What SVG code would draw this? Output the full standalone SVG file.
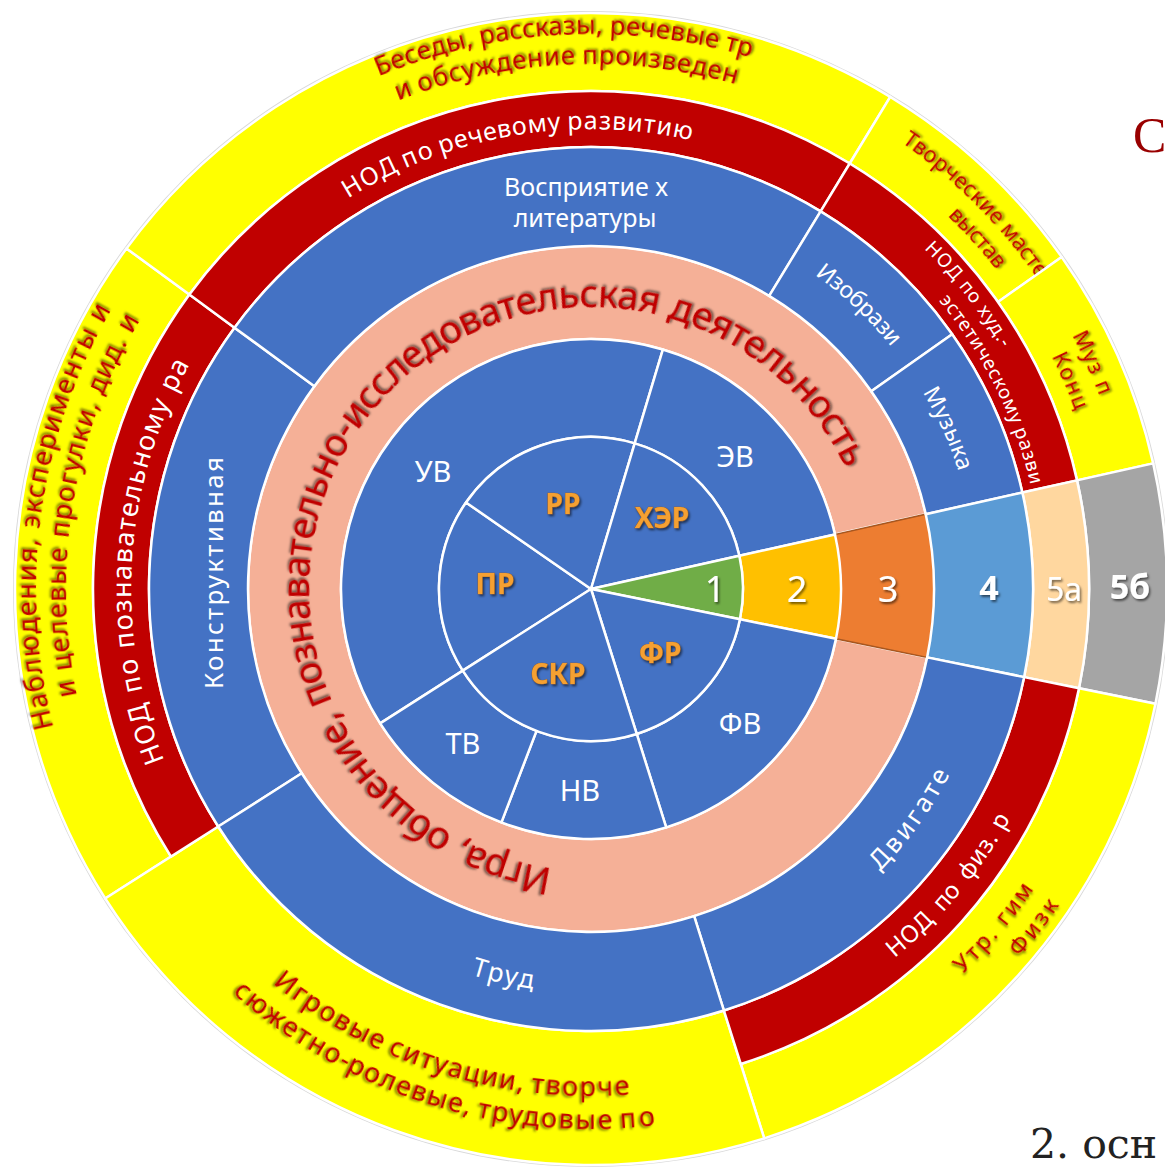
<svg xmlns="http://www.w3.org/2000/svg" width="1165" height="1170" viewBox="0 0 1165 1170">
<defs>
<style>
.s{stroke:#fff;stroke-width:2.5;stroke-linejoin:round}
.blue{fill:#4472C4}
.sal{fill:#F5B097}
.red{fill:#C00000}
.yel{fill:#FFFF00}
.t{font-family:"Noto Sans","Open Sans","DejaVu Sans",sans-serif;text-anchor:middle}
.w{fill:#fff}
.rt{fill:#C00000;filter:url(#sh)}
.or{fill:#F5A030;font-weight:bold;stroke:#9C5A1A;stroke-width:0.7;paint-order:stroke;filter:url(#sh)}
.num{fill:#fff;filter:url(#sh)}
.c{dominant-baseline:central}
</style>
<filter id="sh" x="-20%" y="-20%" width="140%" height="140%"><feDropShadow dx="1.5" dy="2" stdDeviation="1.3" flood-color="#000" flood-opacity="0.55"/></filter>
<!-- clockwise baselines (tops outward), midpoint at angle 0 -->
<path id="cw282" d="M591,307 A282,282 0 0 1 591,871"/>
<path id="cw555" d="M591,34 A555,555 0 0 1 591,1144"/>
<path id="cw525" d="M591,64 A525,525 0 0 1 591,1114"/>
<path id="cw460" d="M591,129 A460,460 0 0 1 591,1049"/>
<path id="cw544" d="M591,45 A544,544 0 0 1 591,1133"/>
<path id="cw516" d="M591,73 A516,516 0 0 1 591,1105"/>
<path id="cw476" d="M591,113 A476,476 0 0 1 591,1065"/>
<path id="cw452" d="M591,137 A452,452 0 0 1 591,1041"/>
<path id="cw386" d="M591,203 A386,386 0 0 1 591,975"/>
<!-- counter-clockwise baselines (tops inward), midpoint at angle 0 -->
<path id="ccw507" d="M591,1096 A507,507 0 0 0 591,82"/>
<path id="ccw540" d="M591,1129 A540,540 0 0 0 591,49"/>
<path id="ccw535" d="M591,1124 A535,535 0 0 0 591,54"/>
<path id="ccw565" d="M591,1154 A565,565 0 0 0 591,24"/>
<path id="ccw478" d="M591,1067 A478,478 0 0 0 591,111"/>
<path id="ccw404" d="M591,993 A404,404 0 0 0 591,185"/>
</defs>
<rect width="1165" height="1170" fill="#fff"/>
<circle cx="591" cy="589" r="577" fill="none" stroke="#d9d9d9" stroke-width="2"/>

<!-- yellow ring -->
<g id="y-nabl">
<path class="yel s" d="M105.21,898.48 A576,576 0 0 1 126.49,248.41 L189.39,294.53 A498,498 0 0 0 170.99,856.58 Z"/>
<text class="t rt" font-size="27" transform="rotate(175.33 591 589)"><textPath href="#cw555" startOffset="50%" textLength="190">Наблюдения,</textPath></text>
<text class="t rt" font-size="27" transform="rotate(196.82 591 589)"><textPath href="#cw555" startOffset="50%" textLength="206">эксперименты</textPath></text>
<text class="t rt" font-size="27" transform="rotate(209.35 591 589)"><textPath href="#cw555" startOffset="50%">и</textPath></text>
<text class="t rt" font-size="27" transform="rotate(169.2 591 589)"><textPath href="#cw525" startOffset="50%">и</textPath></text>
<text class="t rt" font-size="27" transform="rotate(177.8 591 589)"><textPath href="#cw525" startOffset="50%" textLength="122">целевые</textPath></text>
<text class="t rt" font-size="27" transform="rotate(193.03 591 589)"><textPath href="#cw525" startOffset="50%" textLength="138">прогулки,</textPath></text>
<text class="t rt" font-size="27" transform="rotate(204.78 591 589)"><textPath href="#cw525" startOffset="50%" textLength="59">дид.</textPath></text>
<text class="t rt" font-size="27" transform="rotate(209.9 591 589)"><textPath href="#cw525" startOffset="50%">и</textPath></text>
</g>
<g id="y-bes">
<path class="yel s" d="M126.49,248.41 A576,576 0 0 1 890.24,96.83 L849.72,163.48 A498,498 0 0 0 189.39,294.53 Z"/>
<text class="t rt" font-size="26" transform="rotate(252.66 591 589)"><textPath href="#cw555" startOffset="50%" textLength="100">Беседы,</textPath></text>
<text class="t rt" font-size="26" transform="rotate(264.86 591 589)"><textPath href="#cw555" startOffset="50%" textLength="123">рассказы,</textPath></text>
<text class="t rt" font-size="26" transform="rotate(277.53 591 589)"><textPath href="#cw555" startOffset="50%" textLength="109.3">речевые</textPath></text>
<text class="t rt" font-size="26" transform="rotate(285.27 591 589)"><textPath href="#cw555" startOffset="50%" textLength="27.6">тр</textPath></text>
<text class="t rt" font-size="26" transform="rotate(249.32 591 589)"><textPath href="#cw525" startOffset="50%">и</textPath></text>
<text class="t rt" font-size="26" transform="rotate(259.64 591 589)"><textPath href="#cw525" startOffset="50%" textLength="158.6">обсуждение</textPath></text>
<text class="t rt" font-size="26" transform="rotate(277.52 591 589)"><textPath href="#cw525" startOffset="50%" textLength="155.5">произведен</textPath></text>
</g>
<g id="y-tvor">
<path class="yel s" d="M890.24,96.83 A576,576 0 0 1 1061.68,256.98 L997.94,301.94 A498,498 0 0 0 849.72,163.48 Z"/>
<text class="t rt" font-size="22" transform="rotate(311.43 591 589)"><textPath href="#cw544" startOffset="50%" textLength="126">Творческие</textPath></text>
<text class="t rt" font-size="22" transform="rotate(321.95 591 589)"><textPath href="#cw544" startOffset="50%" textLength="61.8">масте</textPath></text>
<text class="t rt" font-size="22" transform="rotate(317.75 591 589)"><textPath href="#cw516" startOffset="50%" textLength="72.9">выстав</textPath></text>
</g>
<g id="y-muz">
<path class="yel s" d="M1061.68,256.98 A576,576 0 0 1 1153.13,463.35 L1077.01,480.36 A498,498 0 0 0 997.94,301.94 Z"/>
<text class="t rt" font-size="22" transform="rotate(335.7 591 589)"><textPath href="#cw544" startOffset="50%" textLength="66.5">Муз п</textPath></text>
<text class="t rt" font-size="22" transform="rotate(336.5 591 589)"><textPath href="#cw516" startOffset="50%" textLength="59.4">Конц</textPath></text>
</g>
<g id="w-5b">
<path fill="#A5A5A5" class="s" d="M1153.13,463.35 A576,576 0 0 1 1155.44,703.84 L1079.00,688.28 A498,498 0 0 0 1077.01,480.36 Z"/>
<text class="t num c" x="1130" y="586" font-size="34" font-weight="bold">5б</text>
</g>
<g id="y-utr">
<path class="yel s" d="M1155.44,703.84 A576,576 0 0 1 764.21,1138.34 L740.75,1063.95 A498,498 0 0 0 1079.00,688.28 Z"/>
<text class="t rt" font-size="23" transform="rotate(40.05 591 589)"><textPath href="#ccw535" startOffset="50%" textLength="111">Утр. гим</textPath></text>
<text class="t rt" font-size="23" transform="rotate(37.35 591 589)"><textPath href="#ccw565" startOffset="50%" textLength="66">Физк</textPath></text>
</g>
<g id="y-igr">
<path class="yel s" d="M764.21,1138.34 A576,576 0 0 1 105.21,898.48 L218.22,826.49 A442,442 0 0 0 723.91,1010.54 Z"/>
<text class="t rt" font-size="27" transform="rotate(121.71 591 589)"><textPath href="#ccw507" startOffset="50%" textLength="127.2">Игровые</textPath></text>
<text class="t rt" font-size="27" transform="rotate(105.67 591 589)"><textPath href="#ccw507" startOffset="50%" textLength="141.6">ситуации,</textPath></text>
<text class="t rt" font-size="27" transform="rotate(91.21 591 589)"><textPath href="#ccw507" startOffset="50%" textLength="99.3">творче</textPath></text>
<text class="t rt" font-size="27" transform="rotate(124.31 591 589)"><textPath href="#ccw540" startOffset="50%" textLength="137.5">сюжетно-</textPath></text>
<text class="t rt" font-size="27" transform="rotate(110.01 591 589)"><textPath href="#ccw540" startOffset="50%" textLength="132">ролевые,</textPath></text>
<text class="t rt" font-size="27" transform="rotate(94.95 591 589)"><textPath href="#ccw540" startOffset="50%" textLength="136.9">трудовые</textPath></text>
<text class="t rt" font-size="27" transform="rotate(85 591 589)"><textPath href="#ccw540" startOffset="50%" textLength="35.7">по</textPath></text>
</g>

<!-- red ring -->
<g id="r-pozn">
<path class="red s" d="M170.99,856.58 A498,498 0 0 1 189.39,294.53 L234.55,327.64 A442,442 0 0 0 218.22,826.49 Z"/>
<text class="t w" font-size="27" transform="rotate(161.9 591 589)"><textPath href="#cw460" startOffset="50%" textLength="62">НОД</textPath></text>
<text class="t w" font-size="27" transform="rotate(169.3 591 589)"><textPath href="#cw460" startOffset="50%" textLength="34">по</textPath></text>
<text class="t w" font-size="27" transform="rotate(188.28 591 589)"><textPath href="#cw460" startOffset="50%" textLength="250">познавательному</textPath></text>
<text class="t w" font-size="27" transform="rotate(207.2 591 589)"><textPath href="#cw460" startOffset="50%" textLength="33">ра</textPath></text>
</g>
<g id="r-rech">
<path class="red s" d="M189.39,294.53 A498,498 0 0 1 849.72,163.48 L820.63,211.33 A442,442 0 0 0 234.55,327.64 Z"/>
<text class="t w" font-size="25" transform="rotate(241.72 591 589)"><textPath href="#cw460" startOffset="50%" textLength="58.1">НОД</textPath></text>
<text class="t w" font-size="25" transform="rotate(248.16 591 589)"><textPath href="#cw460" startOffset="50%" textLength="31.9">по</textPath></text>
<text class="t w" font-size="25" transform="rotate(258.61 591 589)"><textPath href="#cw460" startOffset="50%" textLength="122.6">речевому</textPath></text>
<text class="t w" font-size="25" transform="rotate(274.84 591 589)"><textPath href="#cw460" startOffset="50%" textLength="124.7">развитию</textPath></text>
</g>
<g id="r-hud">
<path class="red s" d="M849.72,163.48 A498,498 0 0 1 1077.01,480.36 L1022.36,492.58 A442,442 0 0 0 820.63,211.33 Z"/>
<text class="t w" font-size="19" transform="rotate(322 591 589)"><textPath href="#cw476" startOffset="50%" textLength="126.3">НОД по худ.-</textPath></text>
<text class="t w" font-size="19" transform="rotate(329.49 591 589)"><textPath href="#cw452" startOffset="50%" textLength="144.9">эстетическому</textPath></text>
<text class="t w" font-size="19" transform="rotate(343.02 591 589)"><textPath href="#cw452" startOffset="50%" textLength="58.1">разви</textPath></text>
</g>
<g id="w-5a">
<path fill="#FFD79F" class="s" d="M1077.01,480.36 A498,498 0 0 1 1079.00,688.28 L1024.13,677.12 A442,442 0 0 0 1022.36,492.58 Z"/>
<text class="t num c" x="1064" y="588" font-size="32">5а</text>
</g>
<g id="r-fiz">
<path class="red s" d="M1079.00,688.28 A498,498 0 0 1 740.75,1063.95 L723.91,1010.54 A442,442 0 0 0 1024.13,677.12 Z"/>
<text class="t w" font-size="24" transform="rotate(47.3 591 589)"><textPath href="#ccw478" startOffset="50%" textLength="55">НОД</textPath></text>
<text class="t w" font-size="24" transform="rotate(40.87 591 589)"><textPath href="#ccw478" startOffset="50%" textLength="29">по</textPath></text>
<text class="t w" font-size="24" transform="rotate(34.6 591 589)"><textPath href="#ccw478" startOffset="50%" textLength="53">физ.</textPath></text>
<text class="t w" font-size="24" transform="rotate(29.56 591 589)"><textPath href="#ccw478" startOffset="50%">р</textPath></text>
</g>

<!-- salmon ring -->
<g id="s-ring">
<path class="sal s" d="M927.11,657.38 A343,343 0 1 1 925.74,514.18 L834.98,534.46 A250,250 0 1 0 835.98,638.84 Z"/>
<text class="t rt" font-size="38" transform="rotate(107.535 591 589)"><textPath href="#cw282" startOffset="50%" textLength="95.8">Игра,</textPath></text>
<text class="t rt" font-size="38" transform="rotate(127.01 591 589)"><textPath href="#cw282" startOffset="50%" textLength="77">общ</textPath></text>
<text class="t rt" font-size="38" transform="rotate(144.64 591 589)"><textPath href="#cw282" startOffset="50%" textLength="96.6">ение,</textPath></text>
<text class="t rt" font-size="38" transform="rotate(185.21 591 589)"><textPath href="#cw282" startOffset="50%" textLength="283.9">познавательно-</textPath></text>
<text class="t rt" font-size="38" transform="rotate(248.865 591 589)"><textPath href="#cw282" startOffset="50%" textLength="342.7">исследовательская</textPath></text>
<text class="t rt" font-size="38" transform="rotate(300.06 591 589)"><textPath href="#cw282" startOffset="50%" textLength="142.3">деятель</textPath></text>
<text class="t rt" font-size="38" transform="rotate(324.66 591 589)"><textPath href="#cw282" startOffset="50%" textLength="99.8">ность</textPath></text>
</g>
<g id="w-3">
<path fill="#ED7D31" stroke="#A8561F" stroke-width="1.5" d="M925.74,514.18 A343,343 0 0 1 927.11,657.38 L835.98,638.84 A250,250 0 0 0 834.98,534.46 Z"/>
<text class="t num c" x="888" y="588" font-size="36">3</text>
</g>

<!-- blue ring -->
<g id="b-konstr">
<path class="blue s" d="M218.22,826.49 A442,442 0 0 1 234.55,327.64 L314.39,386.18 A343,343 0 0 0 301.72,773.29 Z"/>
<text class="t w" font-size="26" textLength="232" transform="translate(223,573) rotate(-90)">Конструктивная</text>
</g>
<g id="b-vospr">
<path class="blue s" d="M234.55,327.64 A442,442 0 0 1 820.63,211.33 L769.20,295.92 A343,343 0 0 0 314.39,386.18 Z"/>
<text class="t w" font-size="25" x="586" y="196">Восприятие х</text>
<text class="t w" font-size="25" x="585" y="227">литературы</text>
</g>
<g id="b-izo">
<path class="blue s" d="M820.63,211.33 A442,442 0 0 1 952.18,334.22 L871.28,391.28 A343,343 0 0 0 769.20,295.92 Z"/>
<text class="t w" font-size="23" transform="rotate(313.3 591 589)"><textPath href="#cw386" startOffset="50%" textLength="105.8">Изобрази</textPath></text>
</g>
<g id="b-muz">
<path class="blue s" d="M952.18,334.22 A442,442 0 0 1 1022.36,492.58 L925.74,514.18 A343,343 0 0 0 871.28,391.28 Z"/>
<text class="t w" font-size="23" transform="rotate(335.8 591 589)"><textPath href="#cw386" startOffset="50%" textLength="87.6">Музыка</textPath></text>
</g>
<g id="w-4">
<path fill="#5B9BD5" class="s" d="M1022.36,492.58 A442,442 0 0 1 1024.13,677.12 L927.11,657.38 A343,343 0 0 0 925.74,514.18 Z"/>
<text class="t num c" x="989" y="587" font-size="34" font-weight="bold">4</text>
</g>
<g id="b-dvig">
<path class="blue s" d="M1024.13,677.12 A442,442 0 0 1 723.91,1010.54 L694.14,916.13 A343,343 0 0 0 927.11,657.38 Z"/>
<text class="t w" font-size="26" transform="rotate(35.8 591 589)"><textPath href="#ccw404" startOffset="50%" textLength="120.6">Двигате</textPath></text>
</g>
<g id="b-trud">
<path class="blue s" d="M723.91,1010.54 A442,442 0 0 1 218.22,826.49 L301.72,773.29 A343,343 0 0 0 694.14,916.13 Z"/>
<text class="t w" font-size="26" transform="rotate(102.8 591 589)"><textPath href="#ccw404" startOffset="50%" textLength="64">Труд</textPath></text>
</g>

<!-- middle ring -->
<g id="m-UV">
<path class="blue s" d="M380.15,723.33 A250,250 0 0 1 662.84,349.54 L634.68,443.41 A152,152 0 0 0 462.80,670.67 Z"/>
<text class="t w c" x="433" y="470" font-size="29">УВ</text>
</g>
<g id="m-EV">
<path class="blue s" d="M662.84,349.54 A250,250 0 0 1 834.98,534.46 L739.34,555.84 A152,152 0 0 0 634.68,443.41 Z"/>
<text class="t w c" x="735" y="455" font-size="29">ЭВ</text>
</g>
<g id="w-2">
<path fill="#FFC000" class="s" d="M834.98,534.46 A250,250 0 0 1 835.98,638.84 L739.95,619.30 A152,152 0 0 0 739.34,555.84 Z"/>
<text class="t num c" x="797" y="588" font-size="36">2</text>
</g>
<g id="m-FV">
<path class="blue s" d="M835.98,638.84 A250,250 0 0 1 666.18,827.43 L636.71,733.97 A152,152 0 0 0 739.95,619.30 Z"/>
<text class="t w c" x="740" y="722" font-size="29">ФВ</text>
</g>
<g id="m-NV">
<path class="blue s" d="M666.18,827.43 A250,250 0 0 1 501.41,822.40 L536.53,730.90 A152,152 0 0 0 636.71,733.97 Z"/>
<text class="t w c" x="580" y="789" font-size="29">НВ</text>
</g>
<g id="m-TV">
<path class="blue s" d="M501.41,822.40 A250,250 0 0 1 380.15,723.33 L462.80,670.67 A152,152 0 0 0 536.53,730.90 Z"/>
<text class="t w c" x="463" y="742" font-size="29">ТВ</text>
</g>

<!-- inner pie -->
<g id="i-PR">
<path class="blue s" d="M591,589 L462.80,670.67 A152,152 0 0 1 466.03,502.47 Z"/>
<text class="t or c" x="495" y="583" font-size="28">ПР</text>
</g>
<g id="i-RR">
<path class="blue s" d="M591,589 L466.03,502.47 A152,152 0 0 1 634.68,443.41 Z"/>
<text class="t or c" x="563" y="503" font-size="28">РР</text>
</g>
<g id="i-HER">
<path class="blue s" d="M591,589 L634.68,443.41 A152,152 0 0 1 739.34,555.84 Z"/>
<text class="t or c" x="662" y="517" font-size="28">ХЭР</text>
</g>
<g id="w-1">
<path fill="#70AD47" class="s" d="M591,589 L739.34,555.84 A152,152 0 0 1 739.95,619.30 Z"/>
<text class="t num c" x="715" y="588" font-size="36">1</text>
</g>
<g id="i-FR">
<path class="blue s" d="M591,589 L739.95,619.30 A152,152 0 0 1 636.71,733.97 Z"/>
<text class="t or c" x="660" y="652" font-size="28">ФР</text>
</g>
<g id="i-SKR">
<path class="blue s" d="M591,589 L636.71,733.97 A152,152 0 0 1 462.80,670.67 Z"/>
<text class="t or c" x="558" y="673" font-size="28">СКР</text>
</g>

<g id="connectors"></g>

<g id="slide-fragments">
<text x="1133" y="152" font-family="'Liberation Serif',serif" font-size="50" fill="#990000">С</text>
<text x="1030" y="1158" font-family="'DejaVu Serif',serif" font-size="41" fill="#222">2. осн</text>
</g>
</svg>
